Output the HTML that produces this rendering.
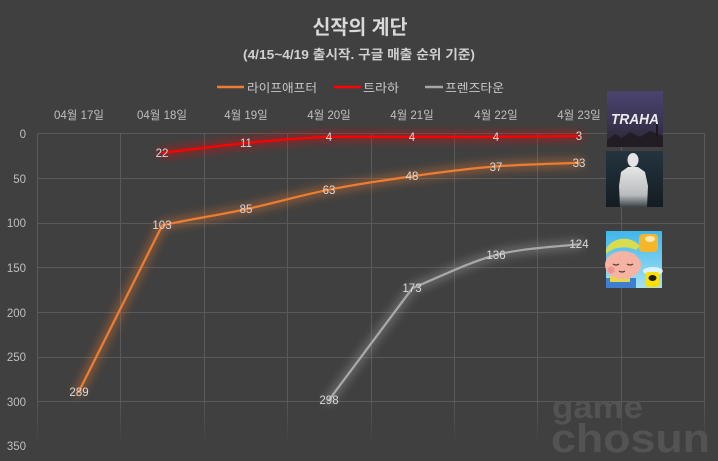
<!DOCTYPE html>
<html><head><meta charset="utf-8"><style>
html,body{margin:0;padding:0;background:#404040;}
svg{display:block;}
text{font-family:"Liberation Sans","Noto Sans CJK KR",sans-serif;}
</style></head><body>
<svg width="718" height="461" viewBox="0 0 718 461" xmlns="http://www.w3.org/2000/svg">
<defs>
<filter id="glow" x="-20%" y="-50%" width="140%" height="200%"><feGaussianBlur stdDeviation="4.5"/></filter>
<linearGradient id="vfade" gradientUnits="userSpaceOnUse" x1="0" y1="133" x2="0" y2="446">
<stop offset="0.85" stop-color="#5a5a5a"/><stop offset="1" stop-color="#5a5a5a" stop-opacity="0"/></linearGradient>
<linearGradient id="trahaBg" x1="0" y1="0" x2="0" y2="1"><stop offset="0" stop-color="#4b4470"/><stop offset="0.6" stop-color="#3a3350"/><stop offset="1" stop-color="#2a2430"/></linearGradient>
<linearGradient id="silBg" x1="0" y1="0" x2="0" y2="1"><stop offset="0" stop-color="#24343f"/><stop offset="1" stop-color="#141c22"/></linearGradient>
<linearGradient id="silBody" x1="0" y1="0" x2="0" y2="1"><stop offset="0" stop-color="#e6e6e6"/><stop offset="0.7" stop-color="#b9bcbe"/><stop offset="1" stop-color="#3a4247"/></linearGradient>
<linearGradient id="skyBg" x1="0" y1="0" x2="0" y2="1"><stop offset="0" stop-color="#3fb6ec"/><stop offset="1" stop-color="#a6e0f2"/></linearGradient>
</defs>
<rect x="0" y="0" width="718" height="461" fill="#404040"/>

<g stroke="#595959" stroke-width="1">
<line x1="37" y1="133.5" x2="705" y2="133.5"/>
<line x1="37" y1="178.5" x2="705" y2="178.5"/>
<line x1="37" y1="223.5" x2="705" y2="223.5"/>
<line x1="37" y1="267.5" x2="705" y2="267.5"/>
<line x1="37" y1="312.5" x2="705" y2="312.5"/>
<line x1="37" y1="357.5" x2="705" y2="357.5"/>
<line x1="37" y1="401.5" x2="705" y2="401.5"/>
</g>
<g stroke="url(#vfade)" stroke-width="1">
<line x1="37.5" y1="133" x2="37.5" y2="446"/>
<line x1="120.5" y1="133" x2="120.5" y2="446"/>
<line x1="204.5" y1="133" x2="204.5" y2="446"/>
<line x1="287.5" y1="133" x2="287.5" y2="446"/>
<line x1="371.5" y1="133" x2="371.5" y2="446"/>
<line x1="454.5" y1="133" x2="454.5" y2="446"/>
<line x1="537.5" y1="133" x2="537.5" y2="446"/>
<line x1="621.5" y1="133" x2="621.5" y2="446"/>
<line x1="704.5" y1="133" x2="704.5" y2="446"/>
</g>

<g fill="#535353" font-weight="bold">
<text x="552" y="418" font-size="32" textLength="91" lengthAdjust="spacingAndGlyphs">game</text>
<text x="551" y="452" font-size="40" textLength="159" lengthAdjust="spacingAndGlyphs">chosun</text>
</g>

<text x="360" y="34" font-size="20" font-weight="bold" fill="#d9d9d9" text-anchor="middle" textLength="95" lengthAdjust="spacingAndGlyphs">신작의 계단</text>
<text x="359" y="59" font-size="13" font-weight="bold" fill="#d0d0d0" text-anchor="middle" textLength="232" lengthAdjust="spacingAndGlyphs">(4/15~4/19 출시작. 구글 매출 순위 기준)</text>

<line x1="217" y1="87" x2="244" y2="87" stroke="#ed7d31" stroke-width="2.5"/>
<text x="247" y="92" font-size="12" fill="#c8c8c8" textLength="70" lengthAdjust="spacingAndGlyphs">라이프애프터</text>
<line x1="334" y1="87" x2="361" y2="87" stroke="#ff0000" stroke-width="2.5"/>
<text x="363" y="92" font-size="12" fill="#c8c8c8" textLength="36" lengthAdjust="spacingAndGlyphs">트라하</text>
<line x1="425" y1="87" x2="443" y2="87" stroke="#a6a6a6" stroke-width="2.5"/>
<text x="445" y="92" font-size="12" fill="#c8c8c8" textLength="59" lengthAdjust="spacingAndGlyphs">프렌즈타운</text>

<g font-size="11.5" fill="#bfbfbf" text-anchor="middle">
<text x="79" y="119">04월 17일</text>
<text x="162" y="119">04월 18일</text>
<text x="246" y="119">4월 19일</text>
<text x="329" y="119">4월 20일</text>
<text x="412" y="119">4월 21일</text>
<text x="496" y="119">4월 22일</text>
<text x="579" y="119">4월 23일</text>
</g>
<g font-size="11.5" fill="#bfbfbf" text-anchor="end">
<text x="26" y="138">0</text>
<text x="26" y="183">50</text>
<text x="26" y="227">100</text>
<text x="26" y="272">150</text>
<text x="26" y="317">200</text>
<text x="26" y="361">250</text>
<text x="26" y="406">300</text>
<text x="26" y="450">350</text>
</g>

<g fill="none" stroke-linecap="round" stroke-linejoin="round">
<g filter="url(#glow)" opacity="0.4" stroke-width="9">
<path stroke="#ed7d31" d="M78.7,391.9 L162.2,225.5 C183,220.5 217.8,215.3 245.6,209.3 C273.4,203.3 301.2,195.2 329,189.7 C356.8,184.2 384.7,180.1 412.5,176.2 C440.3,172.3 468.1,168.6 495.9,166.4 C523.7,164.2 565.5,163.4 579.4,162.8"/>
<path stroke="#ff0000" d="M162.2,153 C176.1,151.35 217.8,145.8 245.6,143.1 C273.4,140.4 301.2,137.9 329,136.9 C356.8,136.6 384.7,136.9 412.5,136.9 C440.3,136.9 468.1,137.05 495.9,136.9 C523.7,136.75 565.5,136.15 579.4,136"/>
<path stroke="#a6a6a6" d="M329,399.9 L412.5,288.1 C433.4,279.8 468.1,262.3 495.9,255 C523.7,247.7 565.5,246 579.4,244.2"/>
</g>
<path stroke="#ed7d31" stroke-width="2.25" d="M78.7,391.9 L162.2,225.5 C183,220.5 217.8,215.3 245.6,209.3 C273.4,203.3 301.2,195.2 329,189.7 C356.8,184.2 384.7,180.1 412.5,176.2 C440.3,172.3 468.1,168.6 495.9,166.4 C523.7,164.2 565.5,163.4 579.4,162.8"/>
<path stroke="#ff0000" stroke-width="2.25" d="M162.2,153 C176.1,151.35 217.8,145.8 245.6,143.1 C273.4,140.4 301.2,137.9 329,136.9 C356.8,136.6 384.7,136.9 412.5,136.9 C440.3,136.9 468.1,137.05 495.9,136.9 C523.7,136.75 565.5,136.15 579.4,136"/>
<path stroke="#a8a8a8" stroke-width="2.25" d="M329,399.9 L412.5,288.1 C433.4,279.8 468.1,262.3 495.9,255 C523.7,247.7 565.5,246 579.4,244.2"/>
</g>

<g font-size="11.5" fill="#d9d9d9" text-anchor="middle">
<text x="79" y="396">289</text>
<text x="162" y="229">103</text>
<text x="246" y="213">85</text>
<text x="329" y="194">63</text>
<text x="412" y="180">48</text>
<text x="496" y="171">37</text>
<text x="579" y="167">33</text>
<text x="162" y="157">22</text>
<text x="246" y="147">11</text>
<text x="329" y="141">4</text>
<text x="412" y="141">4</text>
<text x="496" y="141">4</text>
<text x="579" y="140">3</text>
<text x="329" y="404">298</text>
<text x="412" y="292">173</text>
<text x="496" y="259">136</text>
<text x="579" y="248">124</text>
</g>

<rect x="607" y="91" width="56" height="56" fill="url(#trahaBg)"/>
<path d="M607,140 L615,134 L622,138 L630,132 L640,137 L650,131 L663,136 L663,147 L607,147 Z" fill="#221d24"/>
<rect x="656" y="120" width="2" height="16" fill="#1c1820"/>
<text x="635" y="124" font-size="15" font-weight="bold" font-style="italic" fill="#ececec" text-anchor="middle" textLength="48" lengthAdjust="spacingAndGlyphs">TRAHA</text>

<rect x="606" y="151" width="57" height="56" fill="url(#silBg)"/>
<ellipse cx="633" cy="160" rx="5.5" ry="7" fill="#e4e4e4"/>
<path d="M628,167 L638,167 L645,172 L648,186 L647,207 L620,207 L619,186 L621,172 Z" fill="url(#silBody)"/>

<rect x="606" y="231" width="56" height="57" fill="url(#skyBg)"/>
<ellipse cx="653" cy="271" rx="10" ry="4" fill="#ffffff" opacity="0.7"/>
<rect x="639" y="234" width="19" height="18" rx="4" fill="#f6b62c"/>
<ellipse cx="650" cy="239" rx="5" ry="3" fill="#f9e9b0"/>
<rect x="606" y="278" width="30" height="10" fill="#3f7fd0"/>
<rect x="610" y="276" width="20" height="6" fill="#e8d64a"/>
<ellipse cx="623" cy="265" rx="18" ry="14" fill="#f4b3a3"/>
<path d="M606,250 C610,238 630,234 640,246 L636,250 C628,246 614,246 606,254 Z" fill="#d8dc4e"/>
<circle cx="611" cy="270" r="3.5" fill="#f08a8a" opacity="0.8"/>
<path d="M613,264 q3,2 6,0 M627,264 q3,2 6,0 M619,271 q3,2 6,0" stroke="#5a3a30" stroke-width="1.2" fill="none"/>
<rect x="646" y="272" width="13" height="15" rx="2" fill="#ffe100"/>
<ellipse cx="652.5" cy="278" rx="4" ry="3" fill="#1c1c1c"/>
</svg>
</body></html>
